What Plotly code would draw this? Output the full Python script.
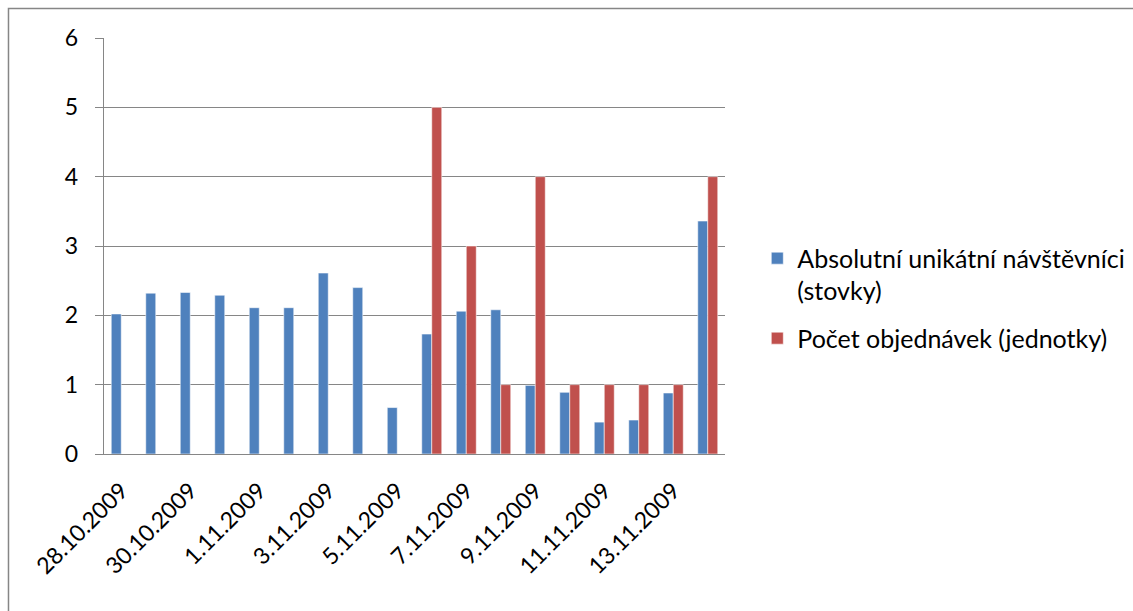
import plotly.graph_objects as go

# Daily dates (one bar group per day)
dates = [
    "28.10.2009", "29.10.2009", "30.10.2009", "31.10.2009", "1.11.2009",
    "2.11.2009", "3.11.2009", "4.11.2009", "5.11.2009", "6.11.2009",
    "7.11.2009", "8.11.2009", "9.11.2009", "10.11.2009", "11.11.2009",
    "12.11.2009", "13.11.2009", "14.11.2009",
]

# Unique visitors (hundreds)
visitors = [2.02, 2.32, 2.33, 2.29, 2.11, 2.11, 2.61, 2.40, 0.67,
            1.73, 2.06, 2.08, 0.99, 0.89, 0.46, 0.49, 0.88, 3.36]

# Number of orders (units)
orders = [None, None, None, None, None, None, None, None, None,
          5, 3, 1, 4, 1, 1, 1, 1, 4]

name_visitors = "Absolutní unikátní návštěvníci<br>(stovky)"
name_orders = "Počet objednávek (jednotky)"

BLUE = "#4F81BD"
RED = "#C0504D"
GREY = "#868686"
FONT = "Lato"

pos = list(range(len(dates)))
label_pos = pos[::2]
label_text = dates[::2]
boundary_pos = [p - 0.5 for p in range(0, len(dates) + 1, 2)]

fig = go.Figure()
fig.add_trace(go.Bar(
    x=pos, y=visitors, name=name_visitors, legendgroup="a",
    marker=dict(color=BLUE, line=dict(color="rgba(255,255,255,0.55)", width=1)),
))
fig.add_trace(go.Bar(
    x=pos, y=orders, name=name_orders, legendgroup="b",
    marker=dict(color=RED, line=dict(color="rgba(255,255,255,0.55)", width=1)),
))

fig.update_layout(
    width=1133, height=611,
    margin=dict(l=104, r=408, t=38, b=157, autoexpand=False),
    paper_bgcolor="white", plot_bgcolor="white",
    barmode="group", bargap=0.42, bargroupgap=0,
    font=dict(family=FONT, size=23, color="black"),
    showlegend=True,
    legend=dict(
        x=1.052, y=0.374, xanchor="left", yanchor="middle",
        font=dict(family=FONT, size=25, color="black"),
        valign="top", tracegroupgap=12, bgcolor="rgba(0,0,0,0)",
        itemwidth=30,
    ),
    xaxis=dict(
        range=[-0.5, len(dates) - 0.5], tickmode="array",
        tickvals=label_pos, ticktext=label_text, tickangle=-45,
        ticks="", showline=True, linecolor=GREY, linewidth=1.4,
        showgrid=False, zeroline=False, ticklabelstandoff=13,
        tickfont=dict(family=FONT, size=23, color="black"),
    ),
    xaxis2=dict(
        overlaying="x", anchor="y", side="bottom", matches="x",
        range=[-0.5, len(dates) - 0.5], tickmode="array",
        tickvals=boundary_pos, ticks="outside", ticklen=7,
        tickcolor=GREY, tickwidth=1.4, showticklabels=False,
        showgrid=False, zeroline=False, showline=False,
    ),
    yaxis=dict(
        range=[0, 6], dtick=1, tick0=0, showgrid=True, gridcolor=GREY,
        gridwidth=1.4, showline=True, linecolor=GREY, linewidth=1.4,
        ticks="outside", ticklen=8, tickcolor=GREY, tickwidth=1.4,
        zeroline=False, ticklabelstandoff=12,
        tickfont=dict(family=FONT, size=23, color="black"),
    ),
    shapes=[dict(
        type="rect", xref="paper", yref="paper",
        x0=-0.1538, x1=1.8, y0=-0.6, y1=1.0709,
        line=dict(color=GREY, width=1.5), fillcolor="rgba(0,0,0,0)",
        layer="below",
    )],
)

fig.write_html("out.html")
